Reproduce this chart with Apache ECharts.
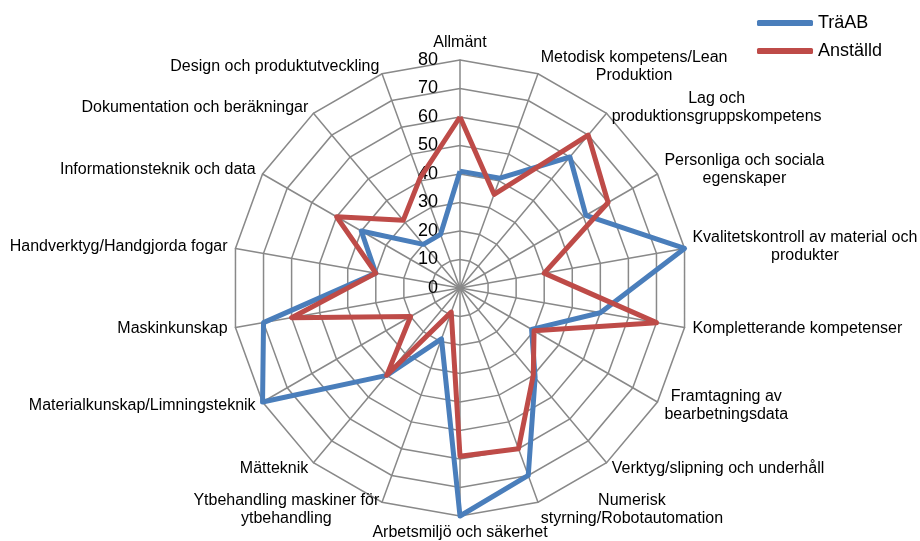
<!DOCTYPE html>
<html>
<head>
<meta charset="utf-8">
<script src="https://cdn.jsdelivr.net/npm/echarts@6/dist/echarts.min.js"></script>
<style>html,body{margin:0;padding:0;background:#fff}#c{width:920px;height:541px}</style>
</head>
<body>
<div id="c"></div>
<script>
// Categories in clockwise order starting at the top
const categories = [
  'Allmänt',
  'Metodisk kompetens/Lean\nProduktion',
  'Lag och\nproduktionsgruppskompetens',
  'Personliga och sociala\negenskaper',
  'Kvalitetskontroll av material och\nprodukter',
  'Kompletterande kompetenser',
  'Framtagning av\nbearbetningsdata',
  'Verktyg/slipning och underhåll',
  'Numerisk\nstyrning/Robotautomation',
  'Arbetsmiljö och säkerhet',
  'Ytbehandling maskiner för\nytbehandling',
  'Mätteknik',
  'Materialkunskap/Limningsteknik',
  'Maskinkunskap',
  'Handverktyg/Handgjorda fogar',
  'Informationsteknik och data',
  'Dokumentation och beräkningar',
  'Design och produktutveckling'
];
const seriesNames = ['TräAB', 'Anställd'];
const traAB =    [41, 41, 60, 51, 80, 50, 29, 41, 70, 80, 19, 40, 80, 70, 30, 40, 20, 20];
const anstalld = [60, 35, 70, 60, 30, 70, 30, 40, 60, 59,  9, 40, 20, 60, 30, 50, 31, 41];
const tickLabels = ['0','10','20','30','40','50','60','70','80'];
const axisMax = 80;

// ECharts radar runs counter-clockwise; reorder so the chart runs clockwise
function cw(arr) { return [arr[0]].concat(arr.slice(1).reverse()); }

const indicators = cw(categories).map((name, i) => {
  const ind = { name: name, min: 0, max: axisMax };
  if (i === 0) {
    ind.axisLabel = {
      show: true, fontSize: 18, color: '#000', fontFamily: 'Liberation Sans',
      margin: 22,
      formatter: v => tickLabels[Math.round(v / 10)] ?? ''
    };
  }
  return ind;
});

const chart = echarts.init(document.getElementById('c'));
chart.setOption({
  animation: false,
  backgroundColor: '#fff',
  textStyle: { fontFamily: 'Liberation Sans' },
  legend: {
    orient: 'vertical',
    left: 752, top: 9,
    itemWidth: 56, itemHeight: 6, itemGap: 10,
    icon: 'roundRect',
    textStyle: { fontSize: 18, color: '#000', fontFamily: 'Liberation Sans' },
    data: seriesNames
  },
  radar: {
    center: [460, 288],
    radius: 228,
    startAngle: 90,
    splitNumber: 8,
    shape: 'polygon',
    axisName: {
      color: '#000', fontSize: 16, fontFamily: 'Liberation Sans',
      formatter: n => n.split('\n').map(s => '{c|' + s + '}').join('\n'),
      rich: { c: { align: 'center', fontSize: 16, color: '#000', lineHeight: 18 } }
    },
    nameGap: 8,
    axisLine: { lineStyle: { color: '#898989', width: 1.5 } },
    splitLine: { lineStyle: { color: '#898989', width: 1.5 } },
    splitArea: { show: false },
    axisTick: { show: false },
    axisLabel: { show: false },
    indicator: indicators
  },
  series: [{
    type: 'radar',
    symbol: 'none',
    data: [
      { name: seriesNames[0], value: cw(traAB),
        lineStyle: { color: '#4a7ebb', width: 5 }, itemStyle: { color: '#4a7ebb' } },
      { name: seriesNames[1], value: cw(anstalld),
        lineStyle: { color: '#be4b48', width: 5 }, itemStyle: { color: '#be4b48' } }
    ]
  }]
});
</script>
</body>
</html>
